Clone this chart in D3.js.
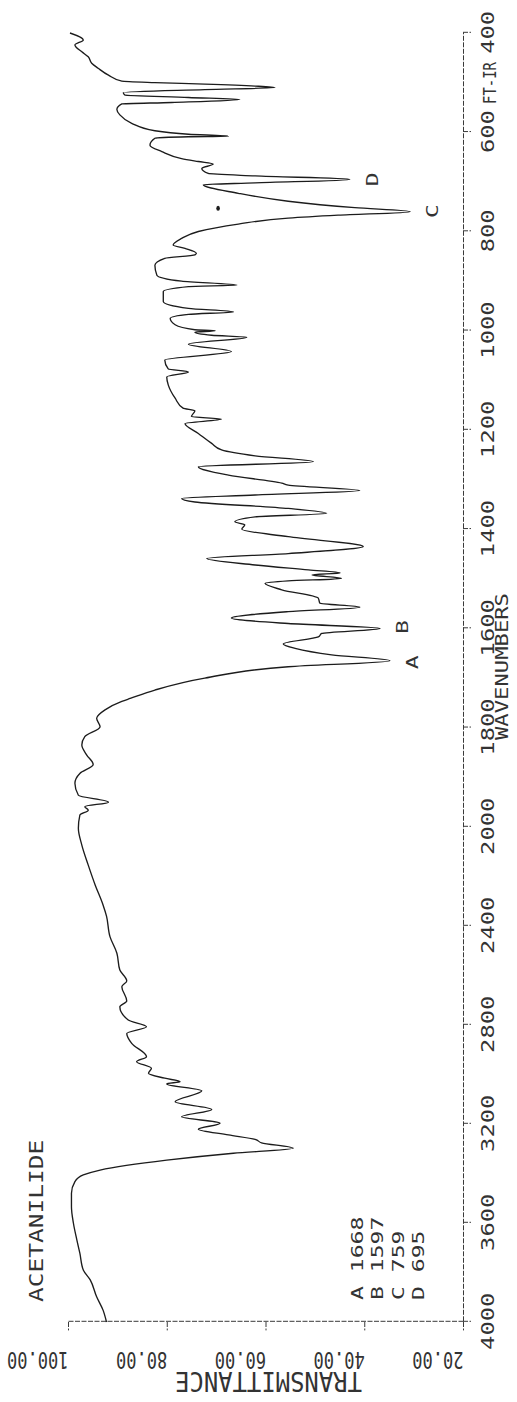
<!DOCTYPE html>
<html><head><meta charset="utf-8">
<script src="https://cdn.jsdelivr.net/npm/d3@7"></script>
<style>
html,body{margin:0;padding:0;background:#fff;}
svg{display:block;background:#fff;}
text{font-family:"DejaVu Sans Mono",monospace;fill:#333;}
</style></head><body>
<svg id="c" width="517" height="1402"></svg>
<script>
// ---- data (wavenumber in cm-1, transmittance in %) ----
const wavenumber = [4000,3952,3898,3830,3790,3722,3669,3601,3534,3480,3433,3406,3386,3346,3318,3298,
3276,3262,3244,3221,3197,3171,3141,3110,3066,3038,3029,3015,2995,2975,2948,2928,2874,2834,2807,2780,
2726,2703,2645,2622,2578,2510,2443,2360,2315,2234,2154,2073,2005,1976,1966,1959,1950,1936,1912,1892,
1874,1855,1835,1818,1798,1781,1764,1747,1741,1724,1700,1677,1665,1653,1640,1631,1617,1610,1600,1590,
1579,1566,1557,1549,1539,1522,1509,1504,1499,1492,1488,1482,1472,1459,1449,1435,1415,1400,1391,1385,
1375,1368,1358,1345,1338,1331,1322,1311,1307,1291,1274,1264,1252,1240,1227,1207,1187,1178,1173,1161,
1156,1136,1109,1093,1083,1077,1059,1042,1027,1013,1009,1003,1000,998,988,975,967,962,955,941,921,911,
908,900,888,868,854,847,844,834,827,814,800,785,773,767,760,752,739,723,706,702,695,688,683,673,664,
659,653,639,626,612,609,608,604,597,582,565,554,543,540,534,530,525,520,514,510,507,503,500,497,485,
471,461,448,438,424,414,400];
const transmittance = [92.2,92.9,94.2,95.5,96.9,97.6,98.2,98.9,99.3,99.3,98.6,96.9,93.5,80.0,66.5,54.4,
60.8,62.1,67.5,73.6,69.2,77.0,70.9,78.3,72.9,80.0,77.3,80.4,83.7,83.1,86.1,84.1,87.1,88.1,84.1,87.8,
89.5,88.1,89.1,88.1,89.5,90.1,91.5,92.2,92.9,94.5,95.9,97.2,97.9,97.6,95.9,96.6,91.8,97.9,98.6,97.6,
94.9,96.2,97.2,96.6,93.5,94.2,92.5,89.1,87.4,82.4,72.3,55.4,34.8,46.6,54.0,56.4,49.3,48.6,36.8,55.4,
66.9,55.4,40.9,49.0,49.3,56.7,60.1,55.4,44.6,50.6,44.9,51.3,62.1,71.9,55.4,40.2,55.4,64.8,64.2,66.2,
62.1,47.6,55.4,74.3,77.0,62.1,40.9,55.4,56.7,67.5,73.6,50.3,62.1,68.9,70.9,73.6,76.3,68.9,75.0,74.3,
76.7,78.3,79.7,80.0,75.6,79.7,80.4,66.9,75.6,63.8,70.9,74.3,70.2,74.3,78.3,79.3,75.6,66.5,75.6,80.7,80.7,75.6,
65.8,77.0,82.0,82.4,80.4,74.3,74.0,76.3,78.7,77.0,73.6,65.5,55.4,45.3,30.7,41.9,55.4,65.5,72.6,62.1,42.9,62.1,71.6,72.9,70.6,
73.6,77.0,81.0,83.4,82.4,75.6,67.5,75.6,82.4,87.1,89.5,90.1,89.1,79.0,65.2,75.6,88.5,88.8,72.3,58.1,62.1,72.3,82.4,89.1,91.8,
93.9,95.2,95.9,97.2,98.6,96.9,99.6];

const wnTicks = [4000,3600,3200,2800,2400,2000,1800,1600,1400,1200,1000,800,600,400];
const wnTickLabels = ["4000","3600","3200","2800","2400","2000","1800","1600","1400","1200","1000","800","600","400"];
const tTicks = [20,40,60,80,100];
const tTickLabels = ["20.00","40.00","60.00","80.00","100.00"];

const peakNames = ["A","B","C","D"];
const peakWn = [1668,1597,759,695];
const peakT = [34.8,36.8,30.7,42.9];
const markerWn = [753];
const markerT = [69.6];

const compound = "ACETANILIDE";
const method = "FT-IR";
const xTitle = "WAVENUMBERS";
const yTitle = "TRANSMITTANCE";

// ---- layout: chart is drawn in its own frame, then turned a quarter turn ----
const W = 517, H = 1402, k = 1.4;
const svg = d3.select("#c");
const g = svg.append("g").attr("transform", `translate(0,${H}) scale(1,${k}) rotate(-90)`);

const x = d3.scaleLinear().domain([4000, 2000, 400]).range([(H-1322)/k, (H-827)/k, (H-33)/k]);
const y = d3.scaleLinear().domain([20, 100]).range([463, 68]);

const ink = "#333";

// wavenumber axis (bottom in the chart frame)
const xa = g.append("g").attr("transform", `translate(0,${y(20)})`)
  .style("color", "#3a3a3a")
  .call(d3.axisBottom(x).tickValues(wnTicks).tickSize(8).tickSizeOuter(0)
        .tickFormat((d,i)=>wnTickLabels[i]));
xa.selectAll("path,line").attr("vector-effect","non-scaling-stroke").attr("stroke-width",1)
  .attr("stroke-dasharray","5 1.5");
xa.selectAll("text").attr("y", 31).attr("dy", 0).attr("font-size", 17)
  .attr("font-family", '"DejaVu Sans Mono", monospace').attr("fill", ink);

// transmittance axis (left in the chart frame)
const ya = g.append("g").attr("transform", `translate(${x(4000)},0)`)
  .style("color", "#3a3a3a")
  .call(d3.axisLeft(y).tickValues(tTicks).tickSize(6).tickSizeOuter(0)
        .tickFormat((d,i)=>tTickLabels[i]));
ya.selectAll("path,line").attr("vector-effect","non-scaling-stroke").attr("stroke-width",1)
  .attr("stroke-dasharray","5 1.5");
ya.selectAll("text").attr("x", null).attr("dy", 0)
  .attr("transform", "translate(-21.4,0) rotate(-90)")
  .attr("text-anchor", "start").attr("font-size", 17)
  .attr("font-family", '"DejaVu Sans Mono", monospace').attr("fill", ink);

// axis titles
g.append("text").attr("transform", `translate(${(H-1372)/k},${(y(20)+y(100))/2+3}) rotate(-90)`)
  .attr("text-anchor", "middle").attr("font-size", 19)
  .attr("textLength", 187).attr("lengthAdjust", "spacingAndGlyphs").text(yTitle);
g.append("text").attr("x", (H-740)/k).attr("y", 508).attr("font-size", 18)
  .attr("textLength", 105).attr("lengthAdjust", "spacingAndGlyphs").text(xTitle);

// compound name & method
g.append("text").attr("x", (H-1302)/k).attr("y", 43).attr("font-size", 20)
  .attr("textLength", 116).attr("lengthAdjust", "spacingAndGlyphs").text(compound);
g.append("text").attr("x", (H-104)/k).attr("y", 496).attr("font-size", 17)
  .attr("textLength", 30).attr("lengthAdjust", "spacingAndGlyphs").text(method);

// peak table
const leg = g.append("text").attr("font-size", 16.5).attr("xml:space", "preserve");
peakNames.forEach((n,i)=>{
  leg.append("tspan").attr("x", (H-1300)/k).attr("y", 363 + i*20.3)
     .text(n + " " + peakWn[i]);
});

// spectrum
const idx = d3.range(wavenumber.length);
g.append("path").datum(idx)
  .attr("d", d3.line().x(i=>x(wavenumber[i])).y(i=>y(transmittance[i])).curve(d3.curveMonotoneX))
  .attr("fill","none").attr("stroke","#1c1c1c").attr("stroke-width",1.35)
  .attr("stroke-linejoin","round").attr("vector-effect","non-scaling-stroke");

// peak letters
g.selectAll("text.pk").data(peakNames).join("text").attr("class","pk")
  .attr("x", (d,i)=>x(peakWn[i])).attr("y", (d,i)=>y(peakT[i]) + 22)
  .attr("text-anchor","middle").attr("dominant-baseline","central")
  .attr("font-size", 16.5).text(d=>d);

// stray plotter dot
g.selectAll("circle.mk").data(markerWn).join("circle").attr("class","mk")
  .attr("cx", (d,i)=>x(d)).attr("cy", (d,i)=>y(markerT[i]))
  .attr("r", 1.8).attr("fill", "#1c1c1c");
</script>
</body></html>
